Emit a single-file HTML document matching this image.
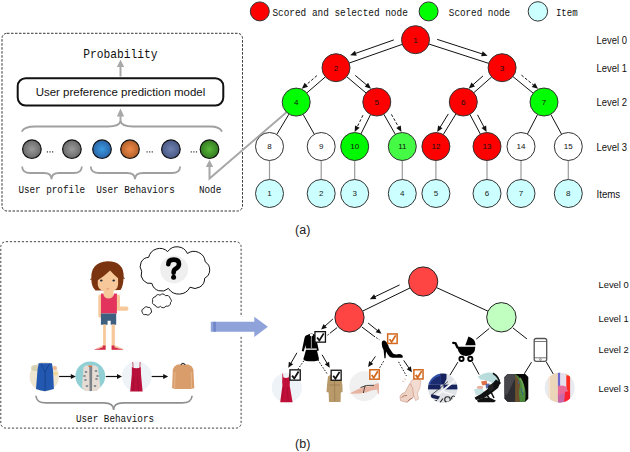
<!DOCTYPE html><html><head><meta charset="utf-8"><style>html,body{margin:0;padding:0;background:#fff;}svg{display:block;}</style></head><body>
<svg width="630" height="452" viewBox="0 0 630 452">
<rect x="2" y="33.3" width="240.5" height="177.7" rx="5" fill="none" stroke="#333" stroke-width="1" stroke-dasharray="2.5,1.5"/>
<text x="83.2" y="57.8" font-family='"Liberation Mono", monospace' font-size="12.6" fill="#111" text-anchor="start" font-weight="normal" textLength="74.4" lengthAdjust="spacingAndGlyphs">Probability</text>
<line x1="120.50" y1="76.50" x2="120.50" y2="65.00" stroke="#a8a8a8" stroke-width="2" stroke-linecap="butt"/>
<path d="M120.5,59.8 L116.8,67 L124.2,67 Z" fill="#a8a8a8"/>
<rect x="17.7" y="78.2" width="205.6" height="27.4" rx="8" fill="#fff" stroke="#111" stroke-width="2"/>
<text x="35.7" y="96.1" font-family='"Liberation Sans", sans-serif' font-size="11" fill="#111" text-anchor="start" font-weight="normal" textLength="169.5" lengthAdjust="spacingAndGlyphs">User preference prediction model</text>
<path d="M21.8,131.7 Q24,126.5 35,126.5 L108,126.5 Q119.5,126.5 120.5,121 Q121.5,126.5 133,126.5 L210,126.5 Q220,126.5 222,131.7" fill="none" stroke="#a0a0a0" stroke-width="1.8"/>
<line x1="120.50" y1="121.00" x2="120.50" y2="116.00" stroke="#a8a8a8" stroke-width="2" stroke-linecap="butt"/>
<path d="M120.5,108.4 L116.8,116.5 L124.2,116.5 Z" fill="#a8a8a8"/>
<defs><radialGradient id="gGray" cx="50%" cy="50%" r="50%"><stop offset="0" stop-color="#9a9a9a"/><stop offset="1" stop-color="#6a6a6a"/></radialGradient><radialGradient id="gBlue" cx="50%" cy="50%" r="50%"><stop offset="0" stop-color="#3a9ae0"/><stop offset="1" stop-color="#2a64a8"/></radialGradient><radialGradient id="gOrange" cx="50%" cy="50%" r="50%"><stop offset="0" stop-color="#ee8a4a"/><stop offset="1" stop-color="#b0602a"/></radialGradient><radialGradient id="gNavy" cx="50%" cy="50%" r="50%"><stop offset="0" stop-color="#7080b0"/><stop offset="1" stop-color="#4a5a85"/></radialGradient><radialGradient id="gGreen" cx="50%" cy="50%" r="50%"><stop offset="0" stop-color="#5ab83a"/><stop offset="1" stop-color="#347a22"/></radialGradient></defs>
<circle cx="31.9" cy="149.2" r="9.3" fill="url(#gGray)" stroke="#111" stroke-width="1.2"/>
<circle cx="71.9" cy="149.2" r="9.3" fill="url(#gGray)" stroke="#111" stroke-width="1.2"/>
<circle cx="102" cy="149.2" r="9.3" fill="url(#gBlue)" stroke="#111" stroke-width="1.2"/>
<circle cx="130" cy="149.2" r="9.3" fill="url(#gOrange)" stroke="#111" stroke-width="1.2"/>
<circle cx="170.9" cy="149.2" r="9.3" fill="url(#gNavy)" stroke="#111" stroke-width="1.2"/>
<circle cx="209.5" cy="149.2" r="9.3" fill="url(#gGreen)" stroke="#111" stroke-width="1.2"/>
<rect x="46.8" y="151.3" width="1.2" height="1.2" fill="#333"/>
<rect x="49.4" y="151.3" width="1.2" height="1.2" fill="#333"/>
<rect x="52.0" y="151.3" width="1.2" height="1.2" fill="#333"/>
<rect x="146.5" y="151.3" width="1.2" height="1.2" fill="#333"/>
<rect x="149.1" y="151.3" width="1.2" height="1.2" fill="#333"/>
<rect x="151.7" y="151.3" width="1.2" height="1.2" fill="#333"/>
<rect x="190.7" y="151.3" width="1.2" height="1.2" fill="#333"/>
<rect x="193.3" y="151.3" width="1.2" height="1.2" fill="#333"/>
<rect x="195.9" y="151.3" width="1.2" height="1.2" fill="#333"/>
<path d="M22.1,166.5 Q22.5,173 30,173 L44,173 Q51.5,173 51.5,179.3 Q51.5,173 59,173 L74,173 Q81.5,173 81.9,166.5" fill="none" stroke="#a0a0a0" stroke-width="1.8"/>
<path d="M90.7,166.5 Q91,173 99,173 L127,173 Q135,173 135,179.3 Q135,173 143,173 L172,173 Q180,173 180.1,166.5" fill="none" stroke="#a0a0a0" stroke-width="1.8"/>
<text x="18.4" y="193" font-family='"Liberation Mono", monospace' font-size="10" fill="#111" text-anchor="start" font-weight="normal" textLength="66.8" lengthAdjust="spacingAndGlyphs">User profile</text>
<text x="96.2" y="193" font-family='"Liberation Mono", monospace' font-size="10" fill="#111" text-anchor="start" font-weight="normal" textLength="78.6" lengthAdjust="spacingAndGlyphs">User Behaviors</text>
<text x="198.9" y="193" font-family='"Liberation Mono", monospace' font-size="10" fill="#111" text-anchor="start" font-weight="normal" textLength="22.4" lengthAdjust="spacingAndGlyphs">Node</text>
<path d="M209.5,165 L209.5,178.6 L286.8,111.9" fill="none" stroke="#a8a8a8" stroke-width="2"/>
<path d="M209.5,159.8 L205.8,167 L213.2,167 Z" fill="#a8a8a8"/>
<circle cx="259.8" cy="11.4" r="9.5" fill="#ff0000" stroke="#333" stroke-width="1"/>
<text x="272.4" y="15.7" font-family='"Liberation Mono", monospace' font-size="10.3" fill="#111" text-anchor="start" font-weight="normal" textLength="135.4" lengthAdjust="spacingAndGlyphs">Scored and selected node</text>
<circle cx="428.6" cy="11.4" r="9.5" fill="#00ff00" stroke="#333" stroke-width="1"/>
<text x="448.8" y="15.7" font-family='"Liberation Mono", monospace' font-size="10.3" fill="#111" text-anchor="start" font-weight="normal" textLength="61.4" lengthAdjust="spacingAndGlyphs">Scored node</text>
<circle cx="537.9" cy="11.4" r="9.7" fill="#ccffff" stroke="#333" stroke-width="1"/>
<text x="555.9" y="15.7" font-family='"Liberation Mono", monospace' font-size="10.3" fill="#111" text-anchor="start" font-weight="normal" textLength="21.7" lengthAdjust="spacingAndGlyphs">Item</text>
<line x1="402.30" y1="44.35" x2="349.20" y2="63.05" stroke="#111" stroke-width="1" stroke-linecap="butt"/>
<line x1="428.82" y1="44.01" x2="488.78" y2="63.39" stroke="#111" stroke-width="1" stroke-linecap="butt"/>
<line x1="325.41" y1="76.85" x2="306.79" y2="92.95" stroke="#111" stroke-width="1" stroke-linecap="butt"/>
<line x1="346.72" y1="76.71" x2="366.08" y2="92.99" stroke="#111" stroke-width="1" stroke-linecap="butt"/>
<line x1="491.61" y1="76.97" x2="473.79" y2="92.73" stroke="#111" stroke-width="1" stroke-linecap="butt"/>
<line x1="512.93" y1="76.57" x2="533.17" y2="93.13" stroke="#111" stroke-width="1" stroke-linecap="butt"/>
<line x1="288.99" y1="114.10" x2="276.71" y2="134.50" stroke="#111" stroke-width="1" stroke-linecap="butt"/>
<line x1="303.07" y1="114.30" x2="314.33" y2="134.30" stroke="#111" stroke-width="1" stroke-linecap="butt"/>
<line x1="370.57" y1="114.54" x2="360.93" y2="133.96" stroke="#111" stroke-width="1" stroke-linecap="butt"/>
<line x1="383.76" y1="114.15" x2="395.34" y2="134.35" stroke="#111" stroke-width="1" stroke-linecap="butt"/>
<line x1="455.96" y1="113.92" x2="443.24" y2="134.58" stroke="#111" stroke-width="1" stroke-linecap="butt"/>
<line x1="469.88" y1="114.36" x2="480.42" y2="134.14" stroke="#111" stroke-width="1" stroke-linecap="butt"/>
<line x1="537.57" y1="114.44" x2="527.43" y2="134.06" stroke="#111" stroke-width="1" stroke-linecap="butt"/>
<line x1="550.71" y1="114.29" x2="561.59" y2="134.21" stroke="#111" stroke-width="1" stroke-linecap="butt"/>
<line x1="269.50" y1="160.50" x2="269.50" y2="179.50" stroke="#9a9a9a" stroke-width="1.2" stroke-linecap="butt"/>
<line x1="321.20" y1="160.50" x2="321.20" y2="179.50" stroke="#9a9a9a" stroke-width="1.2" stroke-linecap="butt"/>
<line x1="354.70" y1="160.50" x2="354.70" y2="179.50" stroke="#9a9a9a" stroke-width="1.2" stroke-linecap="butt"/>
<line x1="402.30" y1="160.50" x2="402.30" y2="179.50" stroke="#9a9a9a" stroke-width="1.2" stroke-linecap="butt"/>
<line x1="435.90" y1="160.50" x2="435.90" y2="179.50" stroke="#9a9a9a" stroke-width="1.2" stroke-linecap="butt"/>
<line x1="487.00" y1="160.50" x2="487.00" y2="179.50" stroke="#9a9a9a" stroke-width="1.2" stroke-linecap="butt"/>
<line x1="521.00" y1="160.50" x2="521.00" y2="179.50" stroke="#9a9a9a" stroke-width="1.2" stroke-linecap="butt"/>
<line x1="568.30" y1="160.50" x2="568.30" y2="179.50" stroke="#9a9a9a" stroke-width="1.2" stroke-linecap="butt"/>
<line x1="393.84" y1="39.91" x2="354.90" y2="53.62" stroke="#111" stroke-width="1" stroke-linecap="butt"/>
<path d="M350.18,55.28 L354.98,50.84 L356.70,55.74 Z" fill="#111"/>
<line x1="437.16" y1="39.35" x2="482.84" y2="54.12" stroke="#111" stroke-width="1" stroke-linecap="butt"/>
<path d="M487.60,55.66 L481.09,56.28 L482.69,51.34 Z" fill="#111"/>
<line x1="316.85" y1="75.66" x2="305.57" y2="85.41" stroke="#111" stroke-width="1" stroke-dasharray="2.8,1.8" stroke-linecap="butt"/>
<path d="M301.78,88.68 L304.62,82.79 L308.02,86.72 Z" fill="#111"/>
<line x1="355.26" y1="75.40" x2="367.20" y2="85.44" stroke="#111" stroke-width="1" stroke-linecap="butt"/>
<path d="M371.03,88.66 L364.77,86.79 L368.11,82.81 Z" fill="#111"/>
<line x1="483.04" y1="75.88" x2="472.48" y2="85.21" stroke="#111" stroke-width="1" stroke-linecap="butt"/>
<path d="M468.73,88.52 L471.51,82.60 L474.95,86.49 Z" fill="#111"/>
<line x1="521.46" y1="75.15" x2="534.19" y2="85.57" stroke="#111" stroke-width="1" stroke-dasharray="2.8,1.8" stroke-linecap="butt"/>
<path d="M538.06,88.74 L531.77,86.95 L535.06,82.92 Z" fill="#111"/>
<line x1="362.97" y1="115.23" x2="356.88" y2="127.49" stroke="#111" stroke-width="1" stroke-dasharray="2.8,1.8" stroke-linecap="butt"/>
<path d="M354.66,131.97 L355.00,125.44 L359.66,127.75 Z" fill="#111"/>
<line x1="391.39" y1="114.39" x2="398.99" y2="127.65" stroke="#111" stroke-width="1" stroke-dasharray="2.8,1.8" stroke-linecap="butt"/>
<path d="M401.48,131.99 L396.24,128.08 L400.75,125.49 Z" fill="#111"/>
<line x1="448.33" y1="113.92" x2="439.80" y2="127.76" stroke="#111" stroke-width="1" stroke-linecap="butt"/>
<path d="M437.18,132.02 L438.11,125.55 L442.54,128.28 Z" fill="#111"/>
<line x1="477.50" y1="114.83" x2="484.28" y2="127.56" stroke="#111" stroke-width="1" stroke-linecap="butt"/>
<path d="M486.63,131.97 L481.51,127.90 L486.10,125.45 Z" fill="#111"/>
<circle cx="415.5" cy="39.7" r="14" fill="#ff0000" stroke="#333" stroke-width="1"/>
<text x="415.5" y="42.6" font-family='"Liberation Sans", sans-serif' font-size="8" fill="#111" text-anchor="middle" font-weight="normal">1</text>
<circle cx="336" cy="67.7" r="14" fill="#ff0000" stroke="#333" stroke-width="1"/>
<text x="336" y="70.60000000000001" font-family='"Liberation Sans", sans-serif' font-size="8" fill="#111" text-anchor="middle" font-weight="normal">2</text>
<circle cx="502.1" cy="67.7" r="14" fill="#ff0000" stroke="#333" stroke-width="1"/>
<text x="502.1" y="70.60000000000001" font-family='"Liberation Sans", sans-serif' font-size="8" fill="#111" text-anchor="middle" font-weight="normal">3</text>
<circle cx="296.2" cy="102.1" r="14" fill="#00ff00" stroke="#333" stroke-width="1"/>
<text x="296.2" y="105.0" font-family='"Liberation Sans", sans-serif' font-size="8" fill="#111" text-anchor="middle" font-weight="normal">4</text>
<circle cx="376.8" cy="102" r="14" fill="#ff0000" stroke="#333" stroke-width="1"/>
<text x="376.8" y="104.9" font-family='"Liberation Sans", sans-serif' font-size="8" fill="#111" text-anchor="middle" font-weight="normal">5</text>
<circle cx="463.3" cy="102" r="14" fill="#ff0000" stroke="#333" stroke-width="1"/>
<text x="463.3" y="104.9" font-family='"Liberation Sans", sans-serif' font-size="8" fill="#111" text-anchor="middle" font-weight="normal">6</text>
<circle cx="544" cy="102" r="14" fill="#00ff00" stroke="#333" stroke-width="1"/>
<text x="544" y="104.9" font-family='"Liberation Sans", sans-serif' font-size="8" fill="#111" text-anchor="middle" font-weight="normal">7</text>
<circle cx="269.5" cy="146.5" r="14" fill="#ffffff" stroke="#333" stroke-width="1"/>
<text x="269.5" y="149.4" font-family='"Liberation Sans", sans-serif' font-size="8" fill="#111" text-anchor="middle" font-weight="normal">8</text>
<circle cx="321.2" cy="146.5" r="14" fill="#ffffff" stroke="#333" stroke-width="1"/>
<text x="321.2" y="149.4" font-family='"Liberation Sans", sans-serif' font-size="8" fill="#111" text-anchor="middle" font-weight="normal">9</text>
<circle cx="354.7" cy="146.5" r="14" fill="#00f800" stroke="#333" stroke-width="1"/>
<text x="354.7" y="149.4" font-family='"Liberation Sans", sans-serif' font-size="8" fill="#111" text-anchor="middle" font-weight="normal">10</text>
<circle cx="402.3" cy="146.5" r="14" fill="#44fa44" stroke="#333" stroke-width="1"/>
<text x="402.3" y="149.4" font-family='"Liberation Sans", sans-serif' font-size="8" fill="#111" text-anchor="middle" font-weight="normal">11</text>
<circle cx="435.9" cy="146.5" r="14" fill="#ff0000" stroke="#333" stroke-width="1"/>
<text x="435.9" y="149.4" font-family='"Liberation Sans", sans-serif' font-size="8" fill="#111" text-anchor="middle" font-weight="normal">12</text>
<circle cx="487" cy="146.5" r="14" fill="#ff0000" stroke="#333" stroke-width="1"/>
<text x="487" y="149.4" font-family='"Liberation Sans", sans-serif' font-size="8" fill="#111" text-anchor="middle" font-weight="normal">13</text>
<circle cx="521" cy="146.5" r="14" fill="#ffffff" stroke="#333" stroke-width="1"/>
<text x="521" y="149.4" font-family='"Liberation Sans", sans-serif' font-size="8" fill="#111" text-anchor="middle" font-weight="normal">14</text>
<circle cx="568.3" cy="146.5" r="14" fill="#ffffff" stroke="#333" stroke-width="1"/>
<text x="568.3" y="149.4" font-family='"Liberation Sans", sans-serif' font-size="8" fill="#111" text-anchor="middle" font-weight="normal">15</text>
<circle cx="269.5" cy="193.5" r="14" fill="#ccffff" stroke="#333" stroke-width="1"/>
<text x="269.5" y="196.4" font-family='"Liberation Sans", sans-serif' font-size="8" fill="#222" text-anchor="middle" font-weight="normal">1</text>
<circle cx="321.2" cy="193.5" r="14" fill="#ccffff" stroke="#333" stroke-width="1"/>
<text x="321.2" y="196.4" font-family='"Liberation Sans", sans-serif' font-size="8" fill="#222" text-anchor="middle" font-weight="normal">2</text>
<circle cx="354.7" cy="193.5" r="14" fill="#ccffff" stroke="#333" stroke-width="1"/>
<text x="354.7" y="196.4" font-family='"Liberation Sans", sans-serif' font-size="8" fill="#222" text-anchor="middle" font-weight="normal">3</text>
<circle cx="402.3" cy="193.5" r="14" fill="#ccffff" stroke="#333" stroke-width="1"/>
<text x="402.3" y="196.4" font-family='"Liberation Sans", sans-serif' font-size="8" fill="#222" text-anchor="middle" font-weight="normal">4</text>
<circle cx="435.9" cy="193.5" r="14" fill="#ccffff" stroke="#333" stroke-width="1"/>
<text x="435.9" y="196.4" font-family='"Liberation Sans", sans-serif' font-size="8" fill="#222" text-anchor="middle" font-weight="normal">5</text>
<circle cx="487" cy="193.5" r="14" fill="#ccffff" stroke="#333" stroke-width="1"/>
<text x="487" y="196.4" font-family='"Liberation Sans", sans-serif' font-size="8" fill="#222" text-anchor="middle" font-weight="normal">6</text>
<circle cx="521" cy="193.5" r="14" fill="#ccffff" stroke="#333" stroke-width="1"/>
<text x="521" y="196.4" font-family='"Liberation Sans", sans-serif' font-size="8" fill="#222" text-anchor="middle" font-weight="normal">7</text>
<circle cx="568.3" cy="193.5" r="14" fill="#ccffff" stroke="#333" stroke-width="1"/>
<text x="568.3" y="196.4" font-family='"Liberation Sans", sans-serif' font-size="8" fill="#222" text-anchor="middle" font-weight="normal">8</text>
<text x="596.5" y="43.8" font-family='"Liberation Sans", sans-serif' font-size="10.3" fill="#111" text-anchor="start" font-weight="normal" textLength="30.4" lengthAdjust="spacingAndGlyphs">Level 0</text>
<text x="596.5" y="71.5" font-family='"Liberation Sans", sans-serif' font-size="10.3" fill="#111" text-anchor="start" font-weight="normal" textLength="30.4" lengthAdjust="spacingAndGlyphs">Level 1</text>
<text x="596.5" y="105.6" font-family='"Liberation Sans", sans-serif' font-size="10.3" fill="#111" text-anchor="start" font-weight="normal" textLength="30.4" lengthAdjust="spacingAndGlyphs">Level 2</text>
<text x="596.5" y="150.9" font-family='"Liberation Sans", sans-serif' font-size="10.3" fill="#111" text-anchor="start" font-weight="normal" textLength="30.4" lengthAdjust="spacingAndGlyphs">Level 3</text>
<text x="596.5" y="197.6" font-family='"Liberation Sans", sans-serif' font-size="10.3" fill="#111" text-anchor="start" font-weight="normal" textLength="23.7" lengthAdjust="spacingAndGlyphs">Items</text>
<text x="295.1" y="233.8" font-family='"Liberation Sans", sans-serif' font-size="12.5" fill="#222" text-anchor="start" font-weight="normal">(a)</text>
<text x="295.1" y="448.4" font-family='"Liberation Sans", sans-serif' font-size="12.5" fill="#222" text-anchor="start" font-weight="normal">(b)</text>
<rect x="0.8" y="241.7" width="240.3" height="186.4" rx="5" fill="none" stroke="#444" stroke-width="1" stroke-dasharray="2.2,1.8"/>
<g>
<path d="M95.5,290.5 Q91.5,287 91.3,279 Q90.5,262.5 107.5,261.3 Q124.5,261.5 123.6,277.5 Q123.2,286.5 120.5,290 Z" fill="#7a3410"/>
<path d="M91.3,278 L89.8,280 L92,279.5 Z M123.5,276.5 L125,279 L123,278.5 Z" fill="#7a3410"/>
<path d="M97.8,280.2 Q104,276.5 110.1,270.6 Q114,275 118.1,278.3 L118.1,284.5 Q117.6,291.4 108.2,291.4 Q98.6,291.4 97.8,285 Z" fill="#f7c99a"/>
<ellipse cx="101.3" cy="280.4" rx="1.3" ry="1" fill="#1e2a3a"/>
<ellipse cx="113.7" cy="280.4" rx="1.3" ry="1" fill="#1e2a3a"/>
<rect x="106.5" y="288.5" width="2.6" height="0.8" fill="#e08070"/>
<rect x="103.5" y="290.5" width="10" height="9" fill="#f7c99a"/>
<rect x="98.3" y="294.5" width="3.4" height="23" rx="1.5" fill="#f7c99a"/>
<rect x="116.5" y="294.5" width="3.4" height="16" rx="1.5" fill="#f7c99a"/>
<rect x="117" y="306.4" width="11.4" height="4.4" rx="1.8" fill="#f7c99a"/>
<path d="M101,293.5 L103.3,293.5 Q104,298.5 108.5,298.5 Q113,298.5 114.2,293.5 L116.9,293.5 L116.9,313.6 L101,313.6 Z" fill="#e2345d"/>
<path d="M100.9,313.5 L116.2,313.5 L116.2,324.7 L110.7,324.7 L110.7,320.8 L107.6,320.8 L107.6,324.7 L100.9,324.7 Z" fill="#3f5f80"/>
<rect x="103.1" y="324.5" width="2.8" height="21.5" fill="#f7c99a"/>
<rect x="111.6" y="324.5" width="3.3" height="21.5" fill="#f7c99a"/>
<path d="M94.5,349.4 Q99,347 103.1,345.4 L105.6,345.4 L105.6,349.7 Z" fill="#f7c99a"/>
<path d="M93.8,349.7 Q99,347.8 102.6,347.4 L102.8,345.4 L105.6,345.4 L105.6,349.8 Z" fill="#d42a4a"/>
<path d="M96.5,349 L100,348.2" stroke="#f4c0c8" stroke-width="0.7"/>
<path d="M123.9,349.4 Q119.4,347 115.3,345.4 L111.6,345.4 L111.6,349.7 Z" fill="#f7c99a"/>
<path d="M123.9,349.7 Q118.5,347.8 114.6,347.4 L114.4,345.4 L111.6,345.4 L111.6,349.8 Z" fill="#d42a4a"/>
<path d="M121.2,349 L117.6,348.2" stroke="#f4c0c8" stroke-width="0.7"/>
</g>
<path d="M148.7,257.3 A11.41,11.41 0 0 1 167.7,251.6 A11.38,11.38 0 0 1 187.4,253.5 A11.29,11.29 0 0 1 205.2,261.8 A9.49,9.49 0 0 1 204.6,278.3 A9.83,9.83 0 0 1 190,287.2 A12.44,12.44 0 0 1 168.4,288.4 A9.91,9.91 0 0 1 151.9,283.4 A9.10,9.10 0 0 1 141.7,271.3 A9.00,9.00 0 0 1 148.7,257.3 Z" fill="#fff" stroke="#111" stroke-width="1.0"/>
<circle cx="174.1" cy="269.4" r="14" fill="#efefef"/>
<path d="M168.3,264.2 Q168.3,259.6 173.8,259.6 Q179,259.6 179,264 Q179,267.2 175.6,268.8 Q173.6,269.8 173.6,272.8" fill="none" stroke="#000" stroke-width="4.6" stroke-linecap="round" stroke-linejoin="round"/>
<circle cx="173.6" cy="277.3" r="2.5" fill="#000"/>
<path d="M155.5,296.8 A2.73,2.73 0 0 1 160,295.3 A3.18,3.18 0 0 1 165.5,295.8 A3.02,3.02 0 0 1 170,298.5 A2.32,2.32 0 0 1 170.5,302.5 A3.28,3.28 0 0 1 166,306 A3.17,3.17 0 0 1 160.5,306.3 A3.25,3.25 0 0 1 155,305 A2.62,2.62 0 0 1 152.8,301 A2.87,2.87 0 0 1 155.5,296.8 Z" fill="#fff" stroke="#111" stroke-width="0.9"/>
<path d="M144,308.5 A2.37,2.37 0 0 1 148,307.5 A2.25,2.25 0 0 1 151,310 A2.09,2.09 0 0 1 150,313.5 A2.35,2.35 0 0 1 146,314.3 A2.42,2.42 0 0 1 142.3,312.3 A2.39,2.39 0 0 1 144,308.5 Z" fill="#fff" stroke="#111" stroke-width="0.9"/>
<circle cx="44.3" cy="376.7" r="14.7" fill="#efe6d2" stroke="none" stroke-width="0"/>
<ellipse cx="35" cy="368" rx="4" ry="3" fill="#cfcca8" opacity="0.8"/>
<circle cx="55" cy="368" r="2" fill="#f0b890"/>
<circle cx="55.5" cy="373.5" r="2" fill="#f0d890"/>
<path d="M38.7,363.2 L51.9,363.2 L53,370 L53.9,389 L48,390.5 L45,391.3 L41,390.5 L36,389 L37.5,370 Z" fill="#2258b0"/>
<path d="M41,363.5 L45.1,372 L49.5,363.5 M45.1,372 L45.1,390" fill="none" stroke="#173f8a" stroke-width="0.8"/>
<circle cx="90.3" cy="376.3" r="14.9" fill="#90d0d4" stroke="none" stroke-width="0"/>
<path d="M85.5,365.6 L95.5,365.6 L98,367.5 L100.3,387 L97,391 L85,391 L82,387 L83.5,367.5 Z" fill="#e6dcd4"/>
<path d="M89.3,366 L92.2,366 L92,391 L89.6,391 Z" fill="#7c8288"/>
<rect x="88.5" y="365.5" width="3.5" height="1.5" fill="#d07040"/>
<ellipse cx="86" cy="372" rx="1.4" ry="1.1" fill="#808a92"/>
<ellipse cx="96" cy="371" rx="1.4" ry="1.1" fill="#808a92"/>
<ellipse cx="85.5" cy="380" rx="1.4" ry="1.1" fill="#808a92"/>
<ellipse cx="96.5" cy="379" rx="1.4" ry="1.1" fill="#808a92"/>
<ellipse cx="87" cy="386" rx="1.4" ry="1.1" fill="#808a92"/>
<ellipse cx="95" cy="386" rx="1.4" ry="1.1" fill="#808a92"/>
<ellipse cx="84.5" cy="376" rx="1.4" ry="1.1" fill="#808a92"/>
<ellipse cx="97.5" cy="376" rx="1.4" ry="1.1" fill="#808a92"/>
<circle cx="136.8" cy="376.4" r="14.9" fill="#eef3f8" stroke="none" stroke-width="0"/>
<path d="M132.7,362 L133.1,367.5 M140.2,362 L139.8,367.5" stroke="#c0304a" stroke-width="0.8"/>
<path d="M131.9,367 Q136.3,369.5 140.8,367 L141,374.5 L142.6,391.6 L130.2,391.6 L131.8,374.5 Z" fill="#b8103a"/>
<path d="M134,377 L133,391 M137.5,377 L138.5,391" stroke="#900828" stroke-width="0.5"/>
<path d="M177.5,364.5 L188.5,364.5 L191.8,366.5 L193.4,369.5 L194.3,388.2 L191.8,388.8 L191.6,389 L174.6,389 L174.4,388.8 L172.1,388.2 L172.8,369.5 L174.3,366.5 Z" fill="#d99d6c"/>
<path d="M175,372 L174.6,388.5 M191.2,372 L191.6,388.5" stroke="#f0c8a0" stroke-width="0.6"/>
<path d="M180.8,365 Q183,361.8 185.3,365" fill="none" stroke="#333" stroke-width="1.1"/>
<line x1="59.10" y1="376.50" x2="71.80" y2="376.50" stroke="#111" stroke-width="1.2" stroke-linecap="butt"/>
<path d="M75.80,376.50 L70.80,378.90 L70.80,374.10 Z" fill="#111"/>
<line x1="105.80" y1="376.50" x2="118.00" y2="376.50" stroke="#111" stroke-width="1.2" stroke-linecap="butt"/>
<path d="M122.00,376.50 L117.00,378.90 L117.00,374.10 Z" fill="#111"/>
<line x1="151.70" y1="376.50" x2="164.20" y2="376.50" stroke="#111" stroke-width="1.2" stroke-linecap="butt"/>
<path d="M168.20,376.50 L163.20,378.90 L163.20,374.10 Z" fill="#111"/>
<path d="M35.9,395.7 Q36.5,402.9 46,402.9 L104,402.9 Q113.6,402.9 113.6,410 Q113.6,402.9 123,402.9 L182,402.9 Q191.5,402.9 192.1,395.7" fill="none" stroke="#909090" stroke-width="1.6"/>
<text x="75.9" y="422" font-family='"Liberation Mono", monospace' font-size="10" fill="#111" text-anchor="start" font-weight="normal" textLength="78.2" lengthAdjust="spacingAndGlyphs">User Behaviors</text>
<rect x="236" y="316.5" width="10" height="20" fill="#fff"/>
<path d="M210.8,321.8 L254.3,321.8 L254.3,316.8 L267.9,326.7 L254.3,337.1 L254.3,331.7 L210.8,331.7 Z" fill="#8fa2da"/>
<rect x="213.3" y="321.8" width="2.6" height="9.9" fill="#7086c8"/>
<line x1="410.08" y1="287.91" x2="362.62" y2="311.09" stroke="#111" stroke-width="1" stroke-linecap="butt"/>
<line x1="436.48" y1="287.58" x2="488.12" y2="311.22" stroke="#111" stroke-width="1" stroke-linecap="butt"/>
<line x1="399.60" y1="284.90" x2="374.31" y2="297.04" stroke="#111" stroke-width="1" stroke-linecap="butt"/>
<path d="M369.80,299.20 L374.08,294.26 L376.33,298.95 Z" fill="#111"/>
<line x1="337.10" y1="327.60" x2="331.00" y2="332.40" stroke="#111" stroke-width="1" stroke-linecap="butt"/>
<line x1="331.00" y1="332.40" x2="326.50" y2="336.00" stroke="#111" stroke-width="1" stroke-dasharray="1.5,1.5" stroke-linecap="butt"/>
<line x1="332.90" y1="319.00" x2="324.46" y2="326.51" stroke="#111" stroke-width="1" stroke-linecap="butt"/>
<path d="M321.10,329.50 L323.55,323.98 L326.87,327.71 Z" fill="#111"/>
<line x1="361.90" y1="327.00" x2="373.80" y2="336.00" stroke="#111" stroke-width="1" stroke-linecap="butt"/>
<line x1="373.80" y1="336.00" x2="379.30" y2="339.60" stroke="#111" stroke-width="1" stroke-dasharray="1.5,1.5" stroke-linecap="butt"/>
<line x1="368.10" y1="323.00" x2="378.00" y2="330.98" stroke="#111" stroke-width="1" stroke-linecap="butt"/>
<path d="M381.50,333.80 L375.65,332.30 L378.79,328.40 Z" fill="#111"/>
<line x1="489.20" y1="328.50" x2="476.30" y2="339.10" stroke="#111" stroke-width="1" stroke-linecap="butt"/>
<line x1="513.00" y1="328.00" x2="526.90" y2="338.90" stroke="#111" stroke-width="1" stroke-linecap="butt"/>
<line x1="296.90" y1="352.80" x2="290.54" y2="363.90" stroke="#111" stroke-width="1" stroke-linecap="butt"/>
<path d="M288.30,367.80 L288.87,361.79 L293.20,364.27 Z" fill="#111"/>
<line x1="303.80" y1="360.80" x2="296.90" y2="370.70" stroke="#111" stroke-width="1" stroke-dasharray="1.5,1.5" stroke-linecap="butt"/>
<line x1="322.10" y1="354.80" x2="327.43" y2="363.92" stroke="#111" stroke-width="1" stroke-linecap="butt"/>
<path d="M329.70,367.80 L324.77,364.31 L329.08,361.79 Z" fill="#111"/>
<line x1="317.80" y1="359.80" x2="327.70" y2="374.70" stroke="#111" stroke-width="1" stroke-dasharray="1.5,1.5" stroke-linecap="butt"/>
<line x1="375.40" y1="356.40" x2="370.65" y2="363.29" stroke="#111" stroke-width="1" stroke-linecap="butt"/>
<path d="M368.10,367.00 L369.16,361.05 L373.28,363.89 Z" fill="#111"/>
<line x1="383.60" y1="361.30" x2="376.50" y2="373.00" stroke="#111" stroke-width="1" stroke-dasharray="1.5,1.5" stroke-linecap="butt"/>
<line x1="403.70" y1="360.40" x2="409.35" y2="368.59" stroke="#111" stroke-width="1" stroke-linecap="butt"/>
<path d="M411.90,372.30 L406.72,369.19 L410.84,366.35 Z" fill="#111"/>
<line x1="398.60" y1="361.90" x2="406.40" y2="375.90" stroke="#111" stroke-width="1" stroke-dasharray="1.5,1.5" stroke-linecap="butt"/>
<line x1="457.90" y1="362.10" x2="449.80" y2="375.40" stroke="#111" stroke-width="1" stroke-linecap="butt"/>
<line x1="472.40" y1="362.10" x2="479.10" y2="374.50" stroke="#111" stroke-width="1" stroke-linecap="butt"/>
<line x1="531.50" y1="362.20" x2="524.30" y2="373.80" stroke="#111" stroke-width="1" stroke-linecap="butt"/>
<line x1="546.20" y1="361.80" x2="553.40" y2="374.20" stroke="#111" stroke-width="1" stroke-linecap="butt"/>
<circle cx="423.2" cy="281.5" r="14.6" fill="#ff4444" stroke="#222" stroke-width="1"/>
<circle cx="349.5" cy="317.5" r="14.6" fill="#ff4444" stroke="#222" stroke-width="1"/>
<circle cx="501.4" cy="317.3" r="14.7" fill="#c0ffc0" stroke="#222" stroke-width="1"/>
<path d="M309.6,334 Q311.4,332.8 313.2,334 L316.7,335.5 L317,342 L318.8,350.5 L316.8,351 L316.7,348.5 L305.8,348.5 L305.7,345 L303.6,351.5 L301.8,351 L304.5,338 Q305,335.8 306,335.5 Z" fill="#000"/>
<path d="M306,349.7 L316.8,349.7 L319,359 Q319,361.3 311.2,361.3 Q303.4,361.3 303.4,359 Z" fill="#000"/>
<ellipse cx="311.4" cy="335" rx="1.6" ry="1.2" fill="#fff"/>
<line x1="311.4" y1="336" x2="311.4" y2="348" stroke="#fff" stroke-width="0.6"/>
<path d="M381.8,344 Q381.5,339.8 384.5,340.5 Q387.5,342 389,347.5 L393,353.5 Q396,355 399,354 Q402.5,354 402.8,356.5 L402.5,357.8 L392.5,357.8 Q389.5,357.5 388.2,355 L386,351.5 L385.6,358.2 L384.4,358.2 L383.6,350 Q381.8,347.5 381.8,344 Z" fill="#000"/>
<circle cx="286.9" cy="387.7" r="15" fill="#eef3f8" stroke="none" stroke-width="0"/>
<path d="M282.4,373.5 L283,373.5 L283.3,377.3 Q286,378.8 288.8,377.3 L289.1,373.5 L289.7,373.5 L289.8,378 Q290,383 289.7,385.5 L292.6,402.2 L280.2,402.2 L282.4,385.5 Q282,382 282.3,378 Z" fill="#c0103a"/>
<path d="M283.5,387 L282,401 M287.5,387 L288,401" stroke="#98082a" stroke-width="0.5"/>
<path d="M331.2,374.3 L337.5,374.3 L340.8,376.5 L342.4,385 L342.6,392 L340.8,392.5 L340.6,402 L329,402 L328.6,392.5 L326.5,392 L327,385 L328,376.5 Z" fill="#b8996a"/>
<path d="M334.5,376 L334.8,401 M329.5,385 L340,385" stroke="#8f7448" stroke-width="0.6"/>
<circle cx="364.4" cy="386.2" r="15" fill="#f0f0f0" stroke="none" stroke-width="0"/>
<path d="M350.5,393 Q357,389.5 363,387 Q366,385.8 369,386.5 L373.5,385 Q376.5,382.5 379,383.5 L379,393.8 L377.8,393.8 L377.3,389.8 Q372,389.5 366,392.5 Q360,394 350.5,393.8 Z" fill="#e8b4a2"/>
<path d="M360.5,387.5 Q366,384.5 374,385.3 M365.2,385.5 Q364,389.5 363.4,393" fill="none" stroke="#333" stroke-width="0.9"/>
<path d="M410.5,382 Q413,377.8 418,378.3 L421,381 L419.8,388 L417.3,393 L418.6,399 L415.6,400.6 L413.2,394.5 Z" fill="#f2dcd2" stroke="#d4a494" stroke-width="0.6"/>
<path d="M400,396.5 Q401.5,393 405,392.5 L409.8,383.5 L412.8,388 L413.5,397 L407,402.4 L400.5,400.6 Z" fill="#eed2c4" stroke="#c89282" stroke-width="0.6"/>
<path d="M401.5,397.5 Q404,395 407,395.5 M407.5,401.5 Q410,398.5 412.5,398" fill="none" stroke="#a87060" stroke-width="0.9"/>
<path d="M404,378.5 L406,380 M402,381 L404.5,382" stroke="#d8a090" stroke-width="0.6"/>
<rect x="314.95" y="331.65" width="10.50" height="10.50" fill="#fff" stroke="#111" stroke-width="1.3"/>
<path d="M317.13,337.49 L319.37,340.44 L323.74,333.36" fill="none" stroke="#111" stroke-width="1.8"/>
<rect x="289.95" y="369.85" width="10.30" height="10.30" fill="#fff" stroke="#111" stroke-width="1.3"/>
<path d="M292.08,375.58 L294.29,378.48 L298.58,371.52" fill="none" stroke="#111" stroke-width="1.8"/>
<rect x="331.15" y="370.25" width="10.00" height="10.00" fill="#fff" stroke="#111" stroke-width="1.3"/>
<path d="M333.21,375.81 L335.36,378.64 L339.54,371.86" fill="none" stroke="#111" stroke-width="1.8"/>
<rect x="387.65" y="333.95" width="9.50" height="9.50" fill="#fff" stroke="#d2691e" stroke-width="1.5"/>
<path d="M389.54,339.25 L391.63,342.00 L395.70,335.40" fill="none" stroke="#d2691e" stroke-width="1.8"/>
<rect x="369.85" y="369.75" width="9.40" height="9.40" fill="#fff" stroke="#d2691e" stroke-width="1.5"/>
<path d="M371.72,375.00 L373.79,377.72 L377.82,371.18" fill="none" stroke="#d2691e" stroke-width="1.8"/>
<rect x="413.85" y="369.75" width="9.20" height="9.20" fill="#fff" stroke="#d2691e" stroke-width="1.5"/>
<path d="M415.67,374.88 L417.70,377.56 L421.66,371.14" fill="none" stroke="#d2691e" stroke-width="1.8"/>
<path d="M468.5,336.6 Q475.6,339 475.6,345.2 L465.3,345.2 Z" fill="#000"/>
<path d="M457.5,346.8 L475.3,346.8 Q475.3,355.5 466.4,355.9 Q458.5,355.9 457.5,348 Z" fill="#000"/>
<path d="M453.2,342.8 L455.5,343.2 L457.5,347.5" fill="none" stroke="#000" stroke-width="2.3" stroke-linecap="round"/>
<circle cx="461.5" cy="358.9" r="2.1" fill="#fff" stroke="#000" stroke-width="1.9"/>
<circle cx="470.3" cy="358.9" r="2.1" fill="#fff" stroke="#000" stroke-width="1.9"/>
<rect x="534.2" y="338.5" width="12.5" height="22.8" rx="2" fill="#fff" stroke="#555" stroke-width="1.3"/>
<line x1="534.2" y1="341.5" x2="546.7" y2="341.5" stroke="#555" stroke-width="0.8"/>
<line x1="534.2" y1="357.8" x2="546.7" y2="357.8" stroke="#555" stroke-width="0.8"/>
<circle cx="540.4" cy="359.5" r="0.9" fill="none" stroke="#555" stroke-width="0.6"/>
<clipPath id="cp1"><circle cx="442.7" cy="388.2" r="14.7"/></clipPath>
<g clip-path="url(#cp1)">
<rect x="427" y="372" width="32" height="33" fill="#dfe2e6"/>
<path d="M427,384.5 Q429,375 440.5,372.5 L441.5,384.5 Z" fill="#3050a8"/>
<path d="M430,384.5 Q432,378 440,376 L441,384.5 Z" fill="#1c2c70"/>
<path d="M440,372.5 L446.5,373 L446.5,379 L444,384.5 L441,384.5 Z" fill="#14215c"/>
<rect x="427" y="384.6" width="13.5" height="4.8" fill="#16235e"/>
<rect x="443.5" y="384.6" width="16" height="4.8" fill="#16235e"/>
<path d="M435,397 L455,380.5 M441,391 L456,396" stroke="#f6f6f6" stroke-width="1.8"/>
<path d="M432,394.5 L448,381.5" stroke="#2a2a3a" stroke-width="0.8"/>
<path d="M431.5,394 L440,396.5 L438,399.5 L430.5,397.5 Z" fill="#1a2050"/>
<circle cx="447.5" cy="399.5" r="2.8" fill="none" stroke="#222" stroke-width="1.1"/>
<circle cx="453.5" cy="398" r="2" fill="none" stroke="#222" stroke-width="1"/>
<path d="M433,401.5 L437,400.5 M440,402.5 L443,398.5" stroke="#222" stroke-width="1.1"/>
</g>
<path d="M478,376.5 Q486,371 494,373 Q500,377 500,384 L496,386 Q490,380 480,379.5 Z" fill="#b8dcdc"/>
<path d="M493,373.2 Q499.5,377 499.8,384" fill="none" stroke="#151515" stroke-width="1.6"/>
<path d="M474,389.5 L482,387 L484.5,393 L476,395.5 Z" fill="#c6e2e2"/>
<ellipse cx="480" cy="387.3" rx="3.2" ry="1.6" fill="#eab0a0"/>
<path d="M481,381.5 L486.5,380.5 L487.5,384.5 L482.5,385.5 Z" fill="#e07048"/>
<path d="M485.5,384 L489.5,383.5 L490,388 L486,388.5 Z" fill="#5a6aa8"/>
<path d="M496,379.5 L500.5,382.5 L498,388 L491,393.5 L484,398 L476,400 L474.6,397.5 L481,394 L487,389.5 L492,384 Z" fill="#111"/>
<path d="M488,386 L493,383 L494,389 L489,392 Z" fill="#222"/>
<path d="M477,400 Q487,394.5 496,400.8 L494,402.2 L478,402.2 Z" fill="#111"/>
<path d="M486,393.5 L490,399.5 M490.5,391 L494,398" stroke="#111" stroke-width="1.6"/>
<path d="M507.6,374 L525.3,374 L528.3,377 L528.3,398.8 L525.3,401.8 L507.6,401.8 L504.6,398.8 L504.6,377 Z" fill="#070707"/>
<path d="M507.6,374 L515.2,374 L515.2,401.8 L507.6,401.8 L504.6,398.8 L504.6,377 Z" fill="#2e2e32"/>
<path d="M507.6,374 L515.2,374 L515.2,378 L507,395 L504.6,394 L504.6,377 Z" fill="#48484c"/>
<path d="M515.2,374 Q528,382 525,401.8 L515.2,401.8 Z" fill="#4a8a3a"/>
<path d="M515.2,375 Q519,378 520,385 Q518,393 520,401.8 L515.2,401.8 Z" fill="#7a3a2a" opacity="0.75"/>
<path d="M520,378 Q524,384 523,392" fill="none" stroke="#6aa050" stroke-width="1.5"/>
<path d="M521,388 L523,395 M518,381 L519,384" stroke="#3a5aa0" stroke-width="0.8"/>
<clipPath id="cp2"><circle cx="559.7" cy="387.7" r="15"/></clipPath>
<g clip-path="url(#cp2)">
<rect x="544" y="372" width="32" height="32" fill="#e8ecf0"/>
<rect x="548.6" y="372" width="9.3" height="32" fill="#ecd6ba"/>
<rect x="548.6" y="372" width="1.5" height="32" fill="#f8e6d6"/>
<rect x="557.9" y="372" width="12.2" height="32" fill="#e6e0ee"/>
<rect x="557.9" y="372" width="2.2" height="15" fill="#6a6ad0"/>
<path d="M565,372 L570.1,372 L570.1,378 L566.5,376 Z" fill="#f09050"/>
<path d="M566.3,376 L570.1,374.5 L570.1,392 L566.3,390 Z" fill="#ff2a20"/>
<path d="M557.9,386 Q563,384.5 567,387 L567,394 L557.9,396 Z" fill="#e86a98"/>
<path d="M557.9,395 L566,393 L566,404 L557.9,404 Z" fill="#c868a8"/>
<path d="M565,392 Q570.1,390 570.1,392 L570.1,404 L564,404 Z" fill="#ff2030"/>
</g>
<text x="598.5" y="287.7" font-family='"Liberation Sans", sans-serif' font-size="9.2" fill="#111" text-anchor="start" font-weight="normal" textLength="30.2" lengthAdjust="spacingAndGlyphs">Level 0</text>
<text x="598.5" y="321.8" font-family='"Liberation Sans", sans-serif' font-size="9.2" fill="#111" text-anchor="start" font-weight="normal" textLength="30.2" lengthAdjust="spacingAndGlyphs">Level 1</text>
<text x="598.5" y="353" font-family='"Liberation Sans", sans-serif' font-size="9.2" fill="#111" text-anchor="start" font-weight="normal" textLength="30.2" lengthAdjust="spacingAndGlyphs">Level 2</text>
<text x="598.5" y="391.8" font-family='"Liberation Sans", sans-serif' font-size="9.2" fill="#111" text-anchor="start" font-weight="normal" textLength="30.2" lengthAdjust="spacingAndGlyphs">Level 3</text>
</svg></body></html>
